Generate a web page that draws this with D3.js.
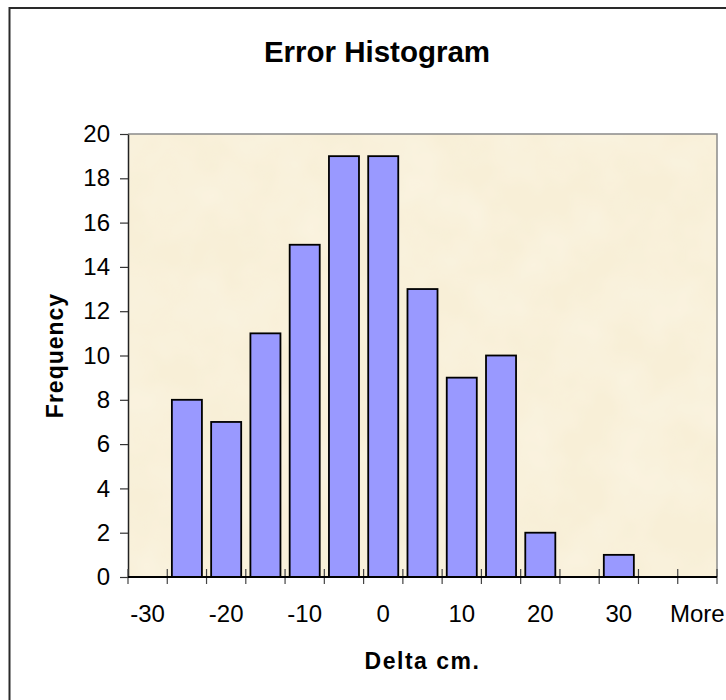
<!DOCTYPE html>
<html>
<head>
<meta charset="utf-8">
<script src="https://cdn.jsdelivr.net/npm/d3@7"></script>
<style>
  html, body { margin: 0; padding: 0; background: #fff; }
  svg { display: block; font-family: "Liberation Sans", Arial, sans-serif; }
</style>
</head>
<body>
<div id="chart"></div>
<script>
// ---- Data ----
const categories = ["-30", "-25", "-20", "-15", "-10", "-5", "0", "5", "10", "15", "20", "25", "30", "35", "More"];
const frequencies = [0, 8, 7, 11, 15, 19, 19, 13, 9, 10, 2, 0, 1, 0, 0];
const yTicks = [0, 2, 4, 6, 8, 10, 12, 14, 16, 18, 20];
const labelEvery = 2;
const title = "Error Histogram";
const xTitle = "Delta cm.";
const yTitle = "Frequency";

// ---- Layout ----
const W = 726, H = 700;
const plot = { left: 128, right: 717, top: 134, bottom: 577 };

const svg = d3.select("#chart").append("svg")
  .attr("width", W).attr("height", H);

// outer chart frame
svg.append("rect")
  .attr("x", 9.5).attr("y", 8).attr("width", W + 20).attr("height", H + 20)
  .attr("fill", "#fff").attr("stroke", "#2a2a2a").attr("stroke-width", 2);

// parchment texture
const defs = svg.append("defs");
const f = defs.append("filter").attr("id", "parch")
  .attr("x", 0).attr("y", 0).attr("width", "100%").attr("height", "100%");
f.append("feTurbulence").attr("type", "fractalNoise")
  .attr("baseFrequency", "0.018").attr("numOctaves", 3).attr("seed", 7).attr("result", "n");
f.append("feColorMatrix").attr("in", "n").attr("type", "matrix")
  .attr("values", "0 0 0 0 1  0 0 0 0 0.98  0 0 0 0 0.92  0.5 0 0 0 -0.15")
  .attr("result", "c");
f.append("feComposite").attr("in", "c").attr("in2", "SourceGraphic").attr("operator", "in");

const x = d3.scaleBand()
  .domain(categories)
  .range([plot.left, plot.right])
  .paddingInner(0.235)
  .paddingOuter(0.1175);

const y = d3.scaleLinear()
  .domain([0, 20])
  .range([plot.bottom, plot.top]);

// plot background
svg.append("rect")
  .attr("x", plot.left).attr("y", plot.top)
  .attr("width", plot.right - plot.left).attr("height", plot.bottom - plot.top)
  .attr("fill", "#F8EFD7");
svg.append("rect")
  .attr("x", plot.left).attr("y", plot.top)
  .attr("width", plot.right - plot.left).attr("height", plot.bottom - plot.top)
  .attr("fill", "#fff").attr("filter", "url(#parch)");

// top/right plot border
svg.append("path")
  .attr("d", `M${plot.left},${plot.top}H${plot.right}V${plot.bottom}`)
  .attr("fill", "none").attr("stroke", "#8a8a8a").attr("stroke-width", 1.5);

// bars
svg.append("g").selectAll("rect")
  .data(frequencies.map((v, i) => ({ cat: categories[i], v })).filter(d => d.v > 0))
  .join("rect")
  .attr("x", d => x(d.cat))
  .attr("y", d => y(d.v))
  .attr("width", x.bandwidth())
  .attr("height", d => y(0) - y(d.v))
  .attr("fill", "#9999FF")
  .attr("stroke", "#000")
  .attr("stroke-width", 1.8);

// Y axis
const yAxis = d3.axisLeft(y).tickValues(yTicks).tickSize(8).tickPadding(10).tickSizeOuter(0);
const gy = svg.append("g").attr("transform", `translate(${plot.left},0)`).call(yAxis);
gy.select(".domain").attr("stroke", "#222").attr("stroke-width", 1.5);
gy.selectAll(".tick line").attr("stroke", "#333").attr("stroke-width", 1.2);
gy.selectAll(".tick text").attr("font-size", 24).attr("fill", "#000")
  .attr("font-family", "'Liberation Sans', Arial, sans-serif");

// X axis: baseline, boundary ticks, labels
const step = x.step();
const boundaries = d3.range(categories.length + 1).map(i =>
  i < categories.length ? x(categories[i]) - step * x.paddingInner() / 2 : plot.right);
const gx = svg.append("g");
gx.selectAll("line.tk").data(boundaries).join("line")
  .attr("class", "tk")
  .attr("x1", d => d).attr("x2", d => d)
  .attr("y1", plot.bottom - 8).attr("y2", plot.bottom + 7)
  .attr("stroke", "#444").attr("stroke-width", 1.2);
gx.append("line")
  .attr("x1", plot.left).attr("x2", plot.right)
  .attr("y1", plot.bottom).attr("y2", plot.bottom)
  .attr("stroke", "#000").attr("stroke-width", 2);
gx.selectAll("text").data(categories.filter((c, i) => i % labelEvery === 0)).join("text")
  .attr("x", d => x(d) + x.bandwidth() / 2)
  .attr("y", 622)
  .attr("text-anchor", "middle")
  .attr("font-size", 24)
  .text(d => d);

// titles
svg.append("text")
  .attr("x", 377).attr("y", 62)
  .attr("text-anchor", "middle")
  .attr("font-size", 29.5).attr("font-weight", "bold")
  .text(title);

svg.append("text")
  .attr("x", (plot.left + plot.right) / 2).attr("y", 669)
  .attr("text-anchor", "middle")
  .attr("font-size", 23).attr("font-weight", "bold")
  .attr("letter-spacing", 1.5)
  .text(xTitle);

svg.append("text")
  .attr("transform", `translate(63,${(plot.top + plot.bottom) / 2}) rotate(-90)`)
  .attr("text-anchor", "middle")
  .attr("font-size", 23).attr("font-weight", "bold")
  .attr("letter-spacing", 1)
  .text(yTitle);
</script>
</body>
</html>
